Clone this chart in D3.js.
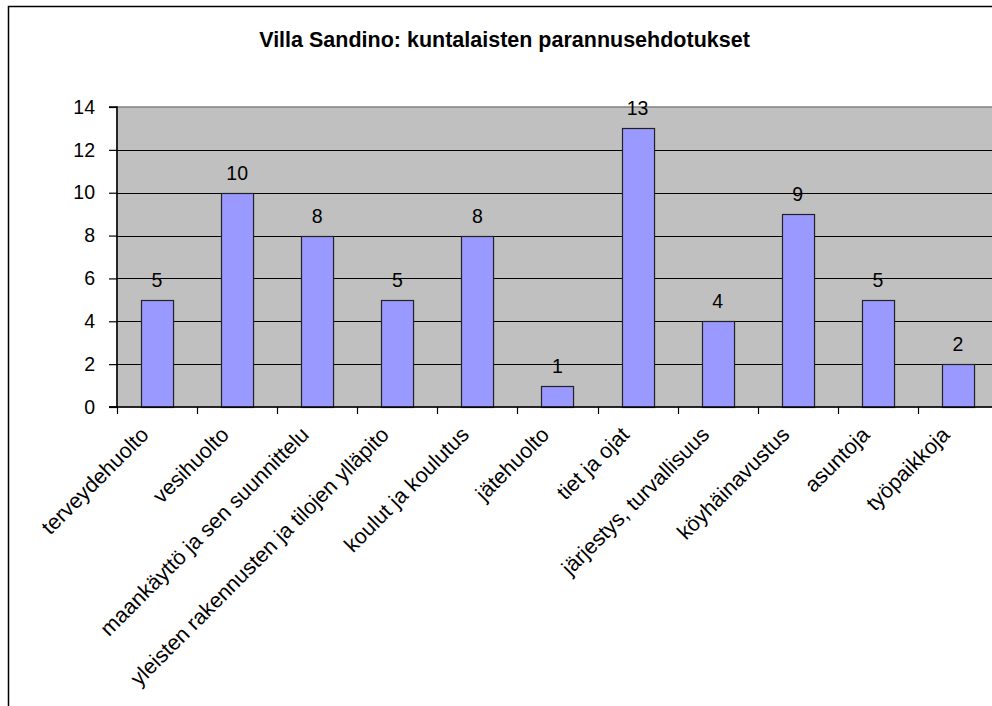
<!DOCTYPE html>
<html><head><meta charset="utf-8">
<script src="https://cdn.jsdelivr.net/npm/d3@7"></script>
<style>body{margin:0;background:#fff}svg{display:block}text{font-family:Arial,"Liberation Sans",sans-serif}</style>
</head><body><svg id="c" width="992" height="706"></svg>
<script>
const categories = ["terveydehuolto","vesihuolto","maankäyttö ja sen suunnittelu","yleisten rakennusten ja tilojen ylläpito","koulut ja koulutus","jätehuolto","tiet ja ojat","järjestys, turvallisuus","köyhäinavustus","asuntoja","työpaikkoja"];
const values = [5,10,8,5,8,1,13,4,9,5,2];
const yTicks = [0,2,4,6,8,10,12,14];
const title = "Villa Sandino: kuntalaisten parannusehdotukset";

const svg = d3.select("#c");
const L = 117, R = 998, T = 107, B = 407;
// outer chart border
svg.append("rect").attr("x",8.5).attr("y",6.5).attr("width",1000).attr("height",720)
  .attr("fill","#fff").attr("stroke","#000").attr("stroke-width",1.5);

const x = d3.scaleBand().domain(categories).range([L,R]).paddingInner(0.6).paddingOuter(0.3);
const xb = d3.scaleBand().domain(categories).range([L,R]);
const y = d3.scaleLinear().domain([0,14]).range([B,T]);

// plot area
svg.append("rect").attr("x",L).attr("y",T).attr("width",R-L).attr("height",B-T)
  .attr("fill","#C0C0C0").attr("stroke","#808080").attr("stroke-width",1.5);

// gridlines
svg.append("g").selectAll("line").data(yTicks.filter(d=>d>0 && d<14)).join("line")
  .attr("x1",L).attr("x2",R).attr("y1",d=>Math.round(y(d))+0.5).attr("y2",d=>Math.round(y(d))+0.5)
  .attr("stroke","#000").attr("stroke-width",1.2);

// bars
svg.append("g").selectAll("rect").data(values).join("rect")
  .attr("x",(d,i)=>Math.round(x(categories[i]))+0.5)
  .attr("y",d=>Math.round(y(d))+0.5)
  .attr("width",x.bandwidth())
  .attr("height",d=>y(0)-Math.round(y(d)))
  .attr("fill","#9999FF").attr("stroke","#222").attr("stroke-width",1.2);

// data labels
svg.append("g").selectAll("text").data(values).join("text")
  .attr("x",(d,i)=>x(categories[i])+x.bandwidth()/2)
  .attr("y",d=>y(d)-13)
  .attr("text-anchor","middle").attr("font-size",19.5).attr("fill","#000")
  .text(d=>d);

// y axis
const yAxis = d3.axisLeft(y).tickValues(yTicks).tickSize(8).tickPadding(14).tickFormat(d3.format("d"));
const gy = svg.append("g").attr("transform",`translate(${L},0)`).call(yAxis);
gy.select(".domain").attr("stroke","#000").attr("stroke-width",1.5).attr("d",`M-8,${B}H0V${T}H-8`);
gy.selectAll(".tick line").attr("stroke","#000").attr("stroke-width",1.2);
gy.selectAll("text").attr("font-size",19.5).attr("fill","#000").attr("font-family","Arial, Liberation Sans, sans-serif");

// x axis baseline + ticks at category boundaries
svg.append("line").attr("x1",L-8).attr("x2",R).attr("y1",B).attr("y2",B).attr("stroke","#000").attr("stroke-width",1.5);
const bounds = categories.map(c=>xb(c)).concat([R]);
svg.append("g").selectAll("line").data(bounds).join("line")
  .attr("x1",d=>Math.round(d)+0.5).attr("x2",d=>Math.round(d)+0.5).attr("y1",B).attr("y2",B+7)
  .attr("stroke","#000").attr("stroke-width",1.2);

// x labels rotated
svg.append("g").selectAll("text").data(categories).join("text")
  .attr("transform",c=>`translate(${xb(c)+xb.bandwidth()/2-7},${B+29}) rotate(-45)`)
  .attr("text-anchor","end").attr("font-size",21.5).attr("fill","#000")
  .text(c=>c);

// title
svg.append("text").attr("x",504.5).attr("y",47).attr("text-anchor","middle")
  .attr("font-size",21.5).attr("font-weight","bold").attr("fill","#000").text(title);
</script></body></html>
